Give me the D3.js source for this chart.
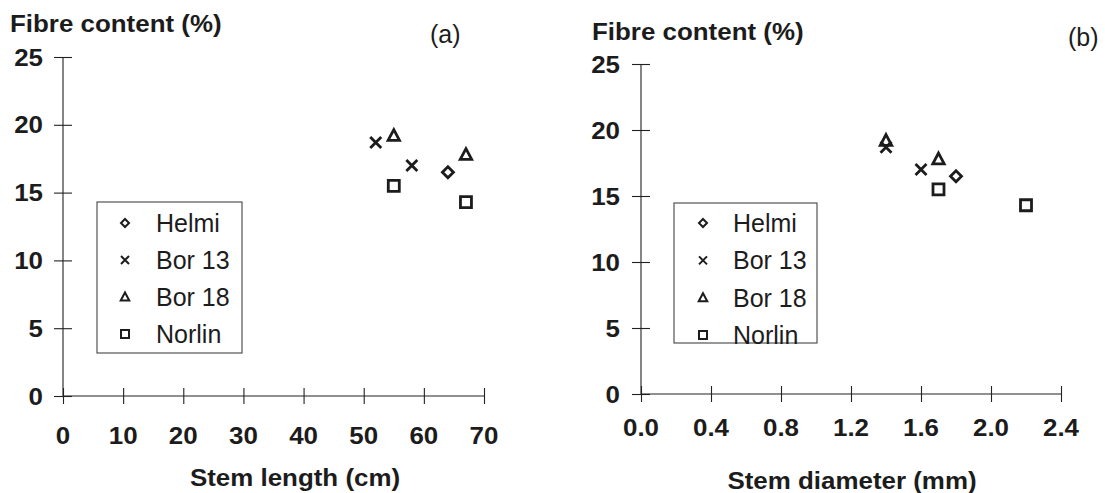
<!DOCTYPE html>
<html>
<head>
<meta charset="utf-8">
<script src="https://cdn.jsdelivr.net/npm/d3@7"></script>
<style>
  html, body { margin: 0; padding: 0; background: #fff; }
  svg { display: block; }
  text { font-family: "Liberation Sans", Arial, Helvetica, sans-serif; fill: #1c1c1c; }
</style>
</head>
<body>
<svg id="chart" width="1105" height="493"></svg>
<script>
// ---- data ----
const varieties = ["Helmi", "Bor 13", "Bor 18", "Norlin"];
const pointVariety = ["Helmi", "Bor 13", "Bor 13", "Bor 18", "Bor 18", "Norlin", "Norlin"];
const stemLength = [64, 52, 58, 55, 67, 55, 67];          // cm
const stemDiameter = [1.8, 1.4, 1.6, 1.4, 1.7, 1.7, 2.2];  // mm
const fibreContent = [16.5, 18.7, 17.0, 19.2, 17.8, 15.5, 14.3]; // %
const yTicks = [0, 5, 10, 15, 20, 25];
const xTicksLength = [0, 10, 20, 30, 40, 50, 60, 70];
const xTicksDiameter = [0.0, 0.4, 0.8, 1.2, 1.6, 2.0, 2.4];

// ---- symbol types ----
const symDiamond = { draw(ctx, size) { const r = Math.sqrt(size) / 2;
  ctx.moveTo(0, -r); ctx.lineTo(r, 0); ctx.lineTo(0, r); ctx.lineTo(-r, 0); ctx.closePath(); } };
const symX = { draw(ctx, size) { const r = Math.sqrt(size) / 2;
  ctx.moveTo(-r, -r); ctx.lineTo(r, r); ctx.moveTo(r, -r); ctx.lineTo(-r, r); } };
const symTri = { draw(ctx, size) { const r = Math.sqrt(size) / 2;
  ctx.moveTo(0, -r); ctx.lineTo(r * 0.95, r * 0.8); ctx.lineTo(-r * 0.95, r * 0.8); ctx.closePath(); } };
const symSquare = { draw(ctx, size) { const r = Math.sqrt(size) / 2;
  ctx.rect(-r, -r, 2 * r, 2 * r); } };
const symbolScale = d3.scaleOrdinal().domain(varieties).range([symDiamond, symX, symTri, symSquare]);
const plotSizeScale = d3.scaleOrdinal().domain(varieties).range([11 * 11, 11 * 11, 12 * 12, 11 * 11]);
const legendSizeScale = d3.scaleOrdinal().domain(varieties).range([8 * 8, 8 * 8, 9 * 9, 8 * 8]);

const svg = d3.select("#chart");
const points = pointVariety.map((v, i) => ({ v, len: stemLength[i], dia: stemDiameter[i], fib: fibreContent[i] }));
const SX = 1.08; // horizontal stretch for bold labels

function boldText(sel, x, y, anchor, txt) {
  sel.append("g").attr("transform", `translate(${x},${y}) scale(${SX},1)`)
    .append("text").attr("dy", "0.36em").attr("text-anchor", anchor)
    .attr("font-size", 24).attr("font-weight", "bold").text(txt);
}

function panel(cfg) {
  const g = svg.append("g");
  const x = d3.scaleLinear().domain(cfg.xDomain).range(cfg.xRange);
  const y = d3.scaleLinear().domain([0, 25]).range(cfg.yRange);

  // y axis
  const ya = g.append("g").attr("transform", `translate(${cfg.xRange[0]},0)`)
    .call(d3.axisLeft(y).tickValues(yTicks).tickSize(9).tickFormat(""));
  ya.select(".domain").attr("stroke", "#222").attr("stroke-width", 1.1).attr("d", `M0,${cfg.yRange[0]}V${cfg.yRange[1]}`);
  ya.selectAll(".tick line").attr("x1", -9).attr("x2", 9).attr("stroke", "#222").attr("stroke-width", 1.1);
  yTicks.forEach(d => boldText(g, cfg.yLabelX, y(d), "end", d));

  // x axis
  const xa = g.append("g").attr("transform", `translate(0,${cfg.yRange[0]})`)
    .call(d3.axisBottom(x).tickValues(cfg.xTicks).tickSize(8).tickFormat(""));
  xa.select(".domain").attr("stroke", "#222").attr("stroke-width", 1.1).attr("d", `M${cfg.xRange[0]},0H${cfg.xRange[1]}`);
  xa.selectAll(".tick line").attr("y1", -8).attr("y2", 8).attr("stroke", "#222").attr("stroke-width", 1.1);
  cfg.xTicks.forEach(d => boldText(g, x(d), cfg.xLabelY, "middle", cfg.xFmt(d)));

  // titles
  boldText(g, cfg.yTitle[0], cfg.yTitle[1], "start", "Fibre content (%)");
  boldText(g, cfg.xTitle[0], cfg.xTitle[1], "middle", cfg.xTitleText);
  g.append("text").attr("x", cfg.tag[0]).attr("y", cfg.tag[1]).attr("font-size", 25).text(cfg.tagText);

  // points
  g.selectAll(".pt").data(points).join("path")
    .attr("transform", d => `translate(${x(cfg.xVal(d))},${y(d.fib)})`)
    .attr("d", d => d3.symbol().type(symbolScale(d.v)).size(plotSizeScale(d.v))())
    .attr("fill", "none").attr("stroke", "#1c1c1c").attr("stroke-width", 2.8).attr("stroke-linejoin", "miter");

  // legend
  const L = cfg.legend;
  g.append("rect").attr("x", L.x).attr("y", L.y).attr("width", L.w).attr("height", L.h)
    .attr("fill", "#fff").attr("stroke", "#444").attr("stroke-width", 1.1);
  const rowY = d3.scalePoint().domain(varieties).range(L.rows);
  const li = g.selectAll(".lg").data(varieties).join("g").attr("transform", d => `translate(0,${rowY(d)})`);
  li.append("path").attr("transform", `translate(${L.mx},0)`)
    .attr("d", d => d3.symbol().type(symbolScale(d)).size(legendSizeScale(d))())
    .attr("fill", "none").attr("stroke", "#1c1c1c").attr("stroke-width", 2);
  li.append("text").attr("x", L.tx).attr("dy", "0.36em").attr("font-size", 25).text(d => d);
}

panel({
  xDomain: [0, 70], xRange: [63, 484], yRange: [396, 57], xTicks: xTicksLength, xFmt: d => d,
  yLabelX: 43, xLabelY: 435, yTitle: [10, 23], xTitle: [295, 477], xTitleText: "Stem length (cm)",
  tag: [430, 43], tagText: "(a)", xVal: d => d.len,
  legend: { x: 97, y: 202, w: 145, h: 151, rows: [223, 334], mx: 125, tx: 156 }
});
panel({
  xDomain: [0, 2.4], xRange: [641, 1061], yRange: [394, 64], xTicks: xTicksDiameter, xFmt: d => d.toFixed(1),
  yLabelX: 620, xLabelY: 427, yTitle: [592, 31], xTitle: [852, 480], xTitleText: "Stem diameter (mm)",
  tag: [1068, 46], tagText: "(b)", xVal: d => d.dia,
  legend: { x: 674, y: 203, w: 143, h: 140, rows: [223, 335], mx: 703, tx: 733 }
});
</script>
</body>
</html>
